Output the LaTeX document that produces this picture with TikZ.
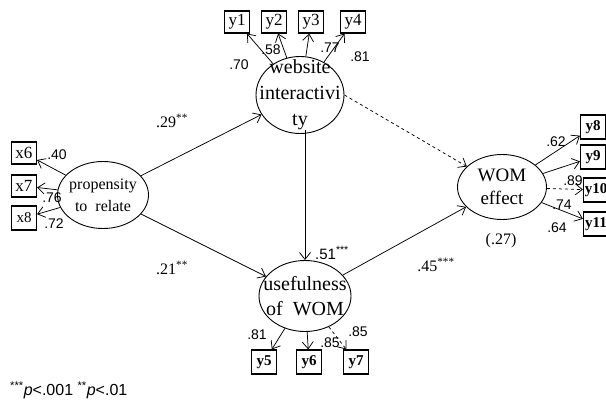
\documentclass[tikz,border=0pt]{standalone}
\usepackage{fontspec}
\setmainfont{Liberation Serif}
\setsansfont{Liberation Sans}
\usetikzlibrary{shapes.geometric,arrows.meta,positioning}

\begin{document}
\begin{tikzpicture}
  [
    x=1pt,y=-1pt,
    >={Straight Barb[length=7pt,width=11pt]},
    latent/.style={draw, ellipse, inner sep=0pt, line width=0.9pt},
    ltext/.style={align=center, inner sep=0pt, font=\fontsize{20}{26}\selectfont},
    obs/.style={draw, rectangle, line width=1.2pt, minimum width=25pt, minimum height=22pt, inner sep=1pt, font=\fontsize{17}{17}\selectfont},
    obsb/.style={obs, minimum height=24pt, font=\fontsize{15}{15}\selectfont\bfseries},
    load/.style={font=\sffamily\fontsize{14}{14}\selectfont, inner sep=1pt},
    coef/.style={font=\fontsize{16}{16}\selectfont, inner sep=1pt},
    link/.style={->, line width=0.75pt}
  ]
  \useasboundingbox (0,0) rectangle (606,402);

  % latent variables
  \node[latent, minimum width=88pt, minimum height=77pt] (web) at (300,95) {};
  \node[ltext] (webtxt) at (web) {website\\interactivi\\ty};
  \node[latent, minimum width=91pt, minimum height=67pt] (prop) at (103,195) {};
  \node[ltext, font=\fontsize{16}{22}\selectfont] (proptxt) at (prop) {propensity\\to~~relate};
  \node[latent, minimum width=92pt, minimum height=71pt] (use) at (305,296) {};
  \node[ltext, font=\fontsize{20}{25}\selectfont] (usetxt) at (use) {usefulness\\of~~WOM};
  \node[latent, minimum width=89pt, minimum height=65pt] (wom) at (502,187) {};
  \node[ltext, font=\fontsize{19}{23}\selectfont] (womtxt) at (wom) {WOM\\effect};

  % indicators
  \node[obs] (y1) at (237,22) {y1};
  \node[obs] (y2) at (274,22) {y2};
  \node[obs] (y3) at (311,22) {y3};
  \node[obs] (y4) at (353,22) {y4};
  \node[obs] (x6) at (24,153) {x6};
  \node[obs] (x7) at (24,186) {x7};
  \node[obsb, font=\fontsize{15}{15}\selectfont] (x8) at (24,218) {x8};
  \node[obsb] (y5) at (264,362) {y5};
  \node[obsb] (y6) at (309,362) {y6};
  \node[obsb] (y7) at (356,362) {y7};
  \node[obsb] (y8) at (593,127) {y8};
  \node[obsb] (y9) at (593,157) {y9};
  \node[obsb] (y10) at (596,190) {y10};
  \node[obsb] (y11) at (596,224) {y11};

  % measurement paths
  \draw[link] (web) -- (y1);
  \draw[link] (web) -- (y2);
  \draw[link] (web) -- (y3);
  \draw[link] (web) -- (y4);
  \draw[link] (prop) -- (x6);
  \draw[link] (prop) -- (x7);
  \draw[link] (prop) -- (x8);
  \draw[link] (use) -- (y5);
  \draw[link] (use) -- (y6);
  \draw[link, dashed] (use) -- (y7);
  \draw[link] (wom) -- (y8);
  \draw[link] (wom) -- (y9);
  \draw[link, dashed] (wom) -- (y10);
  \draw[link] (wom) -- (y11);

  % structural paths
  \draw[link] (prop) -- (web);
  \draw[link] (prop) -- (use);
  \draw[link] (webtxt.south -| use.north) -- (use.north);
  \draw[link] (use) -- (wom);
  \draw[link, dashed] (web.east) -- (wom);

  % loadings
  \node[load] (l70) at (239,65) {.70};
  \node[load] (l58) at (271,50) {.58};
  \node[load] (l77) at (330,48) {.77};
  \node[load] (l81a) at (360,57) {.81};
  \node[load] (l40) at (57,155) {.40};
  \node[load] (l76) at (52,198) {.76};
  \node[load] (l72) at (54,224) {.72};
  \node[load] (l81b) at (257,335) {.81};
  \node[load] (l85a) at (330,343) {.85};
  \node[load] (l85b) at (358,332) {.85};
  \node[load] (l62) at (556,142) {.62};
  \node[load] (l89) at (573,181) {.89};
  \node[load] (l74) at (562,205) {.74};
  \node[load] (l64) at (557,228) {.64};

  % path coefficients
  \node[coef] (c29) at (172,121) {.29\textsuperscript{**}};
  \node[coef] (c21) at (172,268) {.21\textsuperscript{**}};
  \node[coef, font=\sffamily\fontsize{15}{15}\selectfont] (c51) at (332,253) {.51\textsuperscript{***}};
  \node[coef] (c45) at (436,265) {.45\textsuperscript{***}};
  \node[coef] (r27) at (501,241) {(.27)};

  \node[anchor=west, inner sep=0pt, font=\sffamily\fontsize{16}{16}\selectfont] (note) at (10,390)
    {\textsuperscript{***}\textit{p}<.001 \textsuperscript{**}\textit{p}<.01};
\end{tikzpicture}
\end{document}
